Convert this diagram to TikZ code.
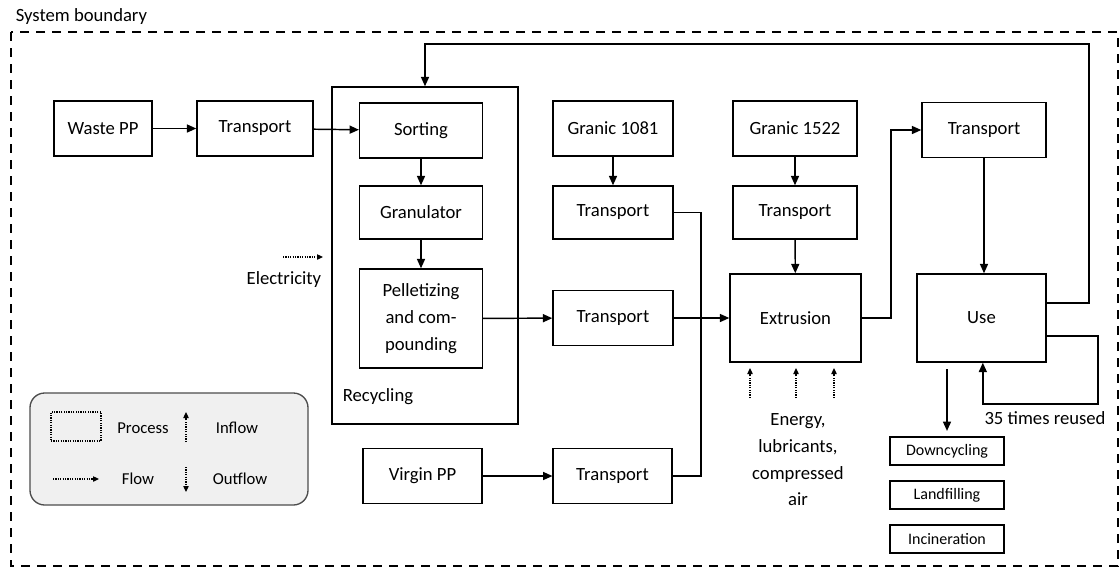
\documentclass[tikz,border=0pt]{standalone}
\usepackage{fontspec}
\setmainfont{Carlito}
\usetikzlibrary{arrows.meta}

\tikzset{every picture/.style={line width=0.75pt}}
\tikzset{
  proc/.style={draw, line width=1.1pt, minimum width=92pt, minimum height=41pt, inner sep=1pt, align=center, font=\fontsize{14}{20}\selectfont},
  endbox/.style={draw, line width=1.1pt, minimum width=85.5pt, minimum height=21pt, inner sep=1pt, font=\fontsize{12}{13}\selectfont},
  flow/.style={line width=1.1pt, -{Triangle[length=7pt,width=6pt]}},
  pipe/.style={line width=1.1pt},
  dotflow/.style={dash pattern={on 0.9pt off 0.9pt}, line width=0.9pt, -{Triangle[length=4.5pt,width=4pt]}},
  lbl/.style={font=\fontsize{14}{20}\selectfont, inner sep=1pt},
  leglbl/.style={font=\fontsize{12.5}{14}\selectfont, inner sep=1pt}
}

\begin{document}
\begin{tikzpicture}[x=0.75pt, y=-0.75pt]
    \useasboundingbox (0,0) rectangle (1120,569);
    % system boundary
    \draw[dash pattern={on 7pt off 5pt}, line width=1pt] (11,32) rectangle (1118,566);
    \node[lbl, anchor=west] (sysb) at (14,17) {System boundary};

    % recycling block
    \node[draw, line width=1.1pt, minimum width=139.5pt, minimum height=252.75pt] (recyc) at (425,255.5) {};
    \node[lbl, anchor=west] (recyclbl) at (341,397) {Recycling};
    \node[proc] (sort) at (421,130.5) {Sorting};
    \node[proc, minimum height=39.75pt] (gran) at (421,212.5) {Granulator};
    \node[proc, minimum height=74.25pt] (pell) at (421,318.5) {Pelletizing\\and com-\\pounding};

    % inputs
    \node[proc, minimum width=73.5pt] (waste) at (103,128.5) {Waste PP};
    \node[proc, minimum width=87pt] (trwaste) at (255,128.5) {Transport};
    \node[proc, minimum width=89pt] (virgin) at (422.5,476) {Virgin PP};
    \node[proc, minimum width=89pt] (trvirgin) at (612.5,476) {Transport};
    \node[proc, minimum width=90pt] (trmid) at (613,318) {Transport};
    \node[proc, minimum width=90pt] (gr1081) at (613,128.5) {Granic 1081};
    \node[proc, minimum width=90pt, minimum height=39.75pt] (tr1081) at (613,212.5) {Transport};
    \node[proc, minimum width=93pt] (gr1522) at (795,128.5) {Granic 1522};
    \node[proc, minimum width=93pt, minimum height=39.75pt] (tr1522) at (795,212.5) {Transport};

    % extrusion and use
    \node[proc, minimum width=98.25pt, minimum height=66pt] (extr) at (795.5,318) {Extrusion};
    \node[proc, minimum width=93pt] (truse) at (984,130) {Transport};
    \node[proc, minimum width=96.75pt, minimum height=66pt] (use) at (981.5,318) {Use};

    % end of life
    \node[endbox] (downc) at (947,451) {Downcycling};
    \node[endbox] (landf) at (947,495) {Landfilling};
    \node[endbox] (incin) at (947,539) {Incineration};

    % bends
    \coordinate (join) at (701,318);
    \coordinate (bendup) at (891,130);
    \coordinate (fbtop) at (1089,44);
    \coordinate (loopbot) at (1098,404);

    % flows
    \draw[flow] (waste) -- (trwaste);
    \draw[flow] (trwaste) -- (sort);
    \draw[flow] (sort) -- (gran);
    \draw[flow] (gran) -- (pell);
    \draw[flow] (pell) -- (trmid);
    \draw[flow] (trmid) -- (extr);
    \draw[flow] (gr1081) -- (tr1081);
    \draw[flow] (gr1522) -- (tr1522);
    \draw[flow] (tr1522) -- (extr);
    \draw[pipe] (tr1081.east) -| (join);
    \draw[pipe] (trvirgin.east) -| (join);
    \draw[flow] (virgin) -- (trvirgin);
    \draw[flow] (extr.east) -| (bendup) -- (truse.west);
    \draw[flow] (truse.south) -- (truse.south |- use.north);
    \draw[flow] ([yshift=11.25pt]use.east) -| (fbtop) -| (recyc.north);
    \draw[flow] ([yshift=-13.5pt]use.east) -| (loopbot) -| ([xshift=1pt]use.south);
    \draw[flow, shorten <=5pt, shorten >=4pt] (use.south -| downc.north) -- (downc.north);
    \node[lbl] (reuse) at (1045,418) {35 times reused};

    % auxiliary inputs
    \coordinate (elA) at (283,257);
    \coordinate (elB) at (323,257);
    \draw[dotflow] (elA) -- (elB);
    \node[lbl, anchor=east] (elec) at (323,280) {Electricity};
    \foreach \x in {750,796,834}
        \draw[dotflow] (\x,398) -- (\x,368);
    \node[lbl, align=center] (energy) at (798,460) {Energy,\\lubricants,\\compressed\\air};

    % legend
    \node[draw=gray!60!black, fill=gray!12, line width=1pt, rounded corners=11pt, minimum width=208.5pt, minimum height=84pt] (legend) at (169,449) {};
    \node[draw, dash pattern={on 0.9pt off 0.9pt}, line width=0.9pt, minimum width=37.5pt, minimum height=21.75pt] (legproc) at (76,426.5) {};
    \node[leglbl] (legproclbl) at (143,428) {Process};
    \coordinate (inA) at (186,442);
    \coordinate (inB) at (186,412);
    \draw[dotflow] (inA) -- (inB);
    \node[leglbl] (leginlbl) at (237,428) {Inflow};
    \coordinate (flA) at (53,479);
    \coordinate (flB) at (99,479);
    \draw[dotflow] (flA) -- (flB);
    \node[leglbl] (legfllbl) at (138,479) {Flow};
    \coordinate (outA) at (186,467);
    \coordinate (outB) at (186,492);
    \draw[dotflow] (outA) -- (outB);
    \node[leglbl] (legoutlbl) at (240,479) {Outflow};
\end{tikzpicture}
\end{document}
